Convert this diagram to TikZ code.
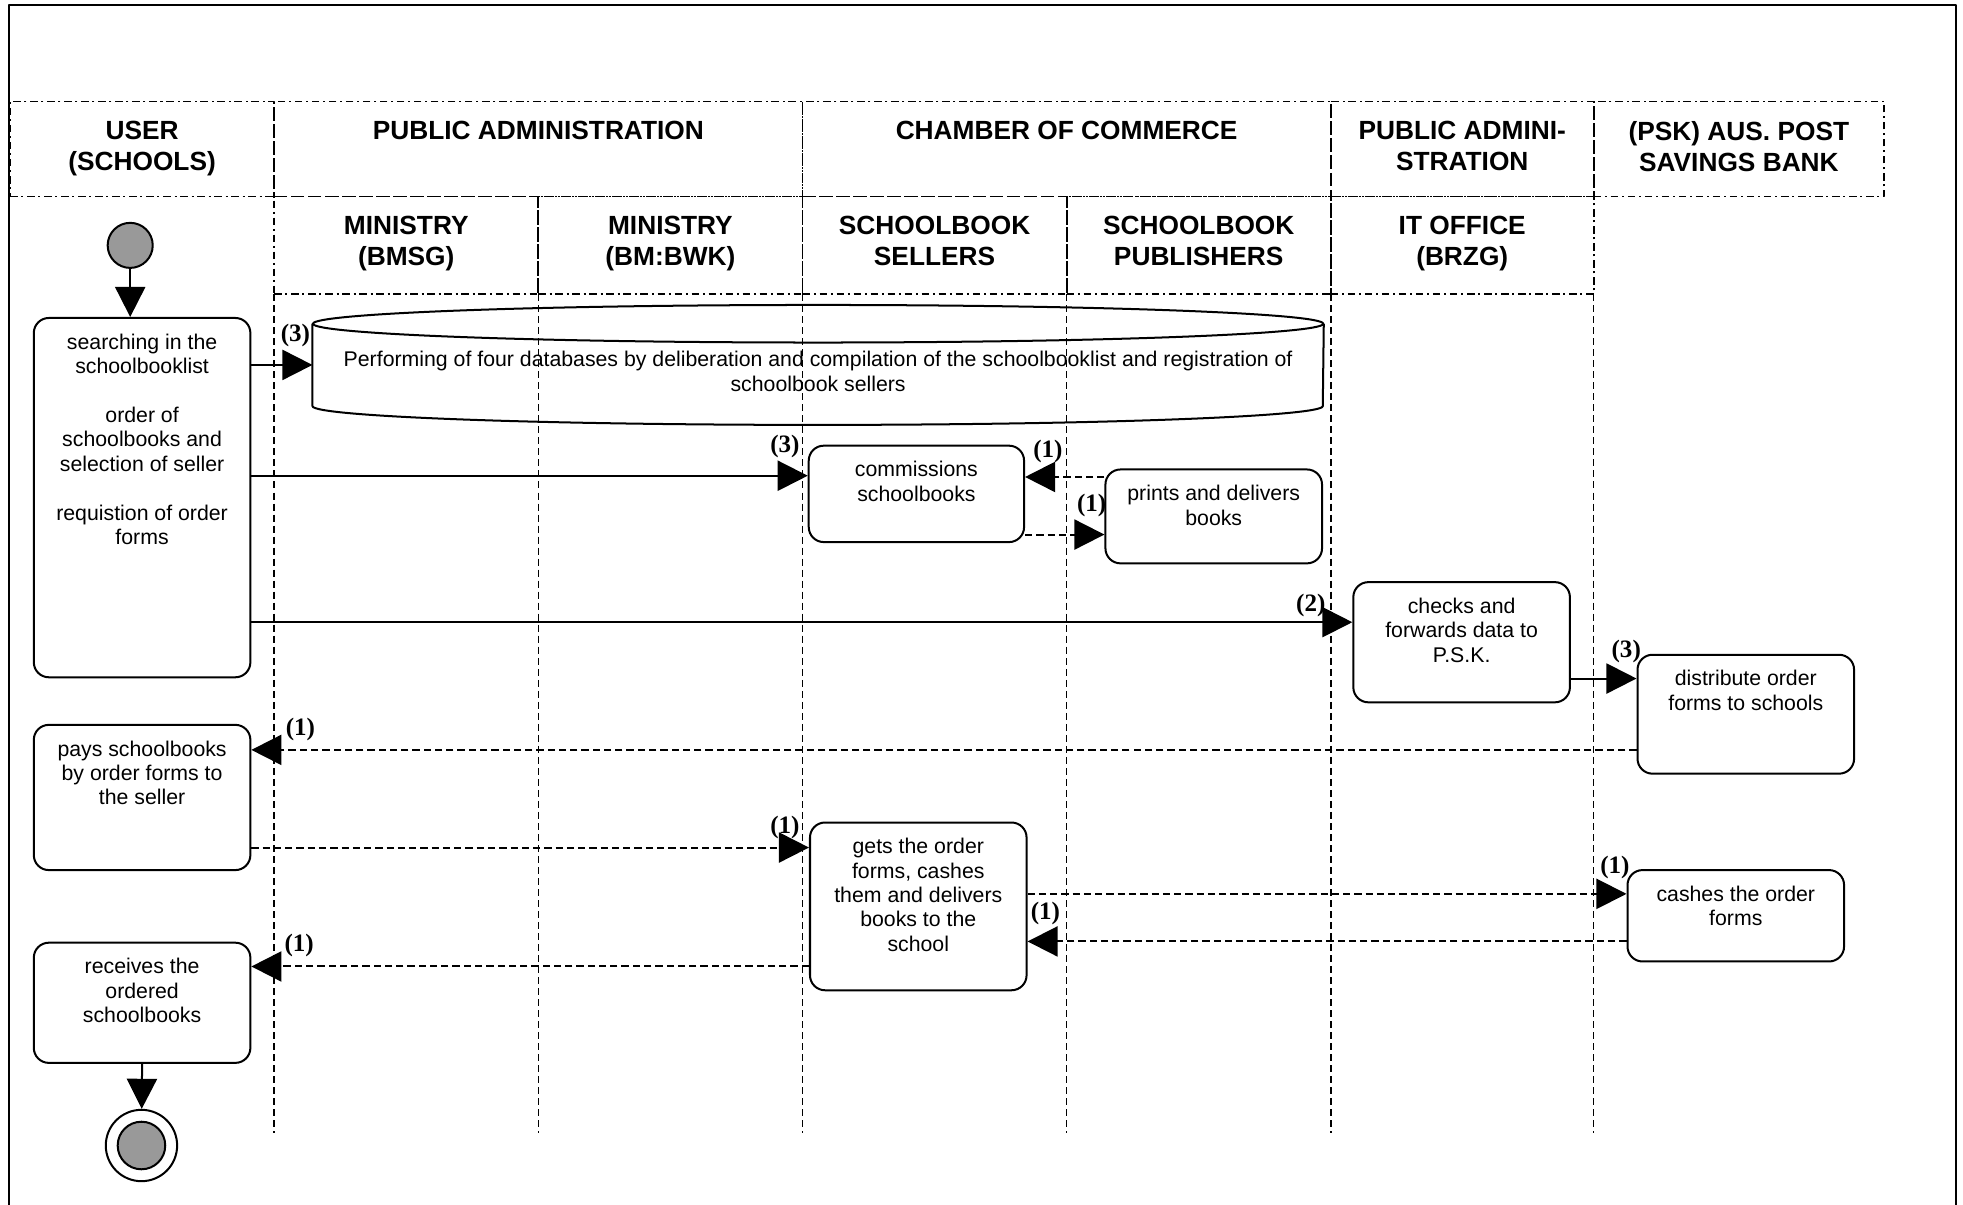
\documentclass[tikz,border=0pt]{standalone}
\usepackage{fontspec}
\setmainfont{Liberation Sans}
\newfontfamily\numfont{Liberation Serif}
\usetikzlibrary{arrows.meta}
\definecolor{dotgray}{HTML}{999999}
\tikzset{
  lanehead/.style={draw, line width=0.7pt, dash pattern=on 3pt off 1.5pt on 0.8pt off 1.5pt, inner sep=0pt},
  headtext/.style={anchor=north, align=center, inner sep=8pt, font=\fontsize{10.5}{12.5}\selectfont\bfseries},
  lane/.style={line width=0.6pt, dash pattern=on 2.8pt off 1.6pt},
  act/.style={draw, rounded corners=6pt, line width=0.8pt, minimum width=86.5pt, inner sep=0pt},
  acttext/.style={anchor=north, align=center, inner sep=6.5pt, font=\fontsize{8.5}{9.75}\selectfont},
  flow/.style={line width=0.8pt, -{Triangle[length=12pt,width=12pt]}},
  msg/.style={flow, dash pattern=on 2.9pt off 1.6pt},
  num/.style={font=\fontsize{10}{12}\selectfont\numfont\bfseries, inner sep=0pt},
}
\begin{document}
\begin{tikzpicture}[x=0.5pt, y=-0.5pt, line join=round]
\useasboundingbox (0,0) rectangle (1568,962);
\draw[line width=0.8pt] (7,975) -- (7,4) -- (1562.5,4) -- (1562.5,975);

\node[lanehead, minimum width=105.5pt, minimum height=38pt, label={[headtext]north:USER\\(SCHOOLS)}] (hUser) at (113.5,119) {};
\node[lanehead, minimum width=211pt, minimum height=38pt, label={[headtext]north:PUBLIC ADMINISTRATION}] (hPub) at (430,119) {};
\node[lanehead, minimum width=211pt, minimum height=38pt, label={[headtext]north:CHAMBER OF COMMERCE}] (hCham) at (852,119) {};
\node[lanehead, minimum width=105pt, minimum height=38pt, label={[headtext]north:PUBLIC ADMINI-\\STRATION}] (hPubIt) at (1168,119) {};
\node[lanehead, minimum width=116pt, minimum height=38pt, label={[headtext]north:(PSK) AUS. POST\\SAVINGS BANK}] (hPsk) at (1389,119) {};
\node[lanehead, minimum width=105.5pt, minimum height=39pt, label={[headtext]north:MINISTRY\\(BMSG)}] (hBmsg) at (324.5,196) {};
\node[lanehead, minimum width=105.5pt, minimum height=39pt, label={[headtext]north:{MINISTRY\\(BM:BWK)}}] (hBwk) at (535.5,196) {};
\node[lanehead, minimum width=105.5pt, minimum height=39pt, label={[headtext]north:SCHOOLBOOK\\SELLERS}] (hSell) at (746.5,196) {};
\node[lanehead, minimum width=105.5pt, minimum height=39pt, label={[headtext]north:SCHOOLBOOK\\PUBLISHERS}] (hPubl) at (957.5,196) {};
\node[lanehead, minimum width=105pt, minimum height=39pt, label={[headtext]north:IT OFFICE\\(BRZG)}] (hIt) at (1168,196) {};
\foreach \x in {219,430,641,852,1063,1273}
  \draw[lane] (\x,235) -- (\x,905);

\node[circle, draw, line width=0.8pt, fill=dotgray, minimum size=18pt, inner sep=0pt] (start) at (104,196) {};
\node[act, minimum height=143.5pt, label={[acttext]north:searching in the\\schoolbooklist\\[9.75pt]order of\\schoolbooks and\\selection of seller\\[9.75pt]requistion of order\\forms}] (search) at (113.5,397.5) {};
\node[minimum width=403.5pt, minimum height=47.5pt, inner sep=0pt, label={[acttext, anchor=center, yshift=-2.5pt]center:{Performing of four databases by deliberation and compilation of the schoolbooklist and registration of\\schoolbook sellers}}] (db) at (653.5,291.5) {};
\draw[line width=0.8pt] ([yshift=-7.5pt]db.north west) -- ([yshift=7.5pt]db.south west) arc[start angle=180, end angle=0, x radius=403.5, y radius=15] -- ([yshift=-7.5pt]db.north east);
\draw[line width=0.8pt] ([yshift=-7.5pt]db.north) ellipse[x radius=403.5, y radius=15];
\node[act, minimum width=86pt, minimum height=38.5pt, label={[acttext]north:commissions\\schoolbooks}] (com) at (732,394.5) {};
\node[act, minimum height=37.5pt, label={[acttext]north:prints and delivers\\books}] (prn) at (969.5,412.5) {};
\node[act, minimum height=48pt, label={[acttext]north:checks and\\forwards data to\\P.S.K.}] (chk) at (1167.5,513) {};
\node[act, minimum height=47.5pt, label={[acttext]north:distribute order\\forms to schools}] (dist) at (1394.5,570.5) {};
\node[act, minimum height=58pt, label={[acttext]north:pays schoolbooks\\by order forms to\\the seller}] (pays) at (113.5,637) {};
\node[act, minimum height=67pt, label={[acttext]north:gets the order\\forms, cashes\\them and delivers\\books to the\\school}] (gets) at (733.5,724) {};
\node[act, minimum height=36.5pt, label={[acttext]north:cashes the order\\forms}] (cash) at (1386.5,731.5) {};
\node[act, minimum height=48pt, label={[acttext]north:receives the\\ordered\\schoolbooks}] (recv) at (113.5,801) {};
\node[circle, draw, line width=0.8pt, fill=white, minimum size=28.5pt, inner sep=0pt] (stop) at (113,915) {};
\node[circle, draw, line width=0.8pt, fill=dotgray, minimum size=19pt, inner sep=0pt] (stopin) at (stop) {};

\coordinate (comin) at ([yshift=7.25pt]com.west);
\coordinate (prnout) at ([yshift=15.75pt]prn.west);
\coordinate (comout) at ([yshift=-16.25pt]com.east);
\coordinate (chkin) at ([yshift=8pt]chk.west);
\coordinate (distin) at ([yshift=14.25pt]dist.west);
\coordinate (paysin) at ([yshift=19pt]pays.east);
\coordinate (paysout) at ([yshift=-20pt]pays.east);
\coordinate (cashin) at ([yshift=8.75pt]cash.west);
\coordinate (cashout) at ([yshift=-10.25pt]cash.west);
\coordinate (recvin) at ([yshift=14.5pt]recv.east);

\draw[flow] (start) -- (start |- search.north);
\draw[flow] (search.east |- db.west) -- (db.west);
\draw[flow] (search.east |- comin) -- (comin);
\draw[msg] (prnout) -- (com.east |- prnout);
\draw[msg] (comout) -- (prn.west |- comout);
\draw[flow] (search.east |- chkin) -- (chkin);
\draw[flow] (chk.east |- distin) -- (distin);
\draw[msg] (dist.west |- paysin) -- (paysin);
\draw[msg] (paysout) -- (gets.west |- paysout);
\draw[msg] (gets.east |- cashin) -- (cashin);
\draw[msg] (cashout) -- (gets.east |- cashout);
\draw[msg] (gets.west |- recvin) -- (recvin);
\draw[flow] (recv.south) -- (stop);

\node[num] (n1) at (236,268) {(3)};
\node[num] (n2) at (627,357) {(3)};
\node[num] (n3) at (837,361) {(1)};
\node[num] (n4) at (872,404) {(1)};
\node[num] (n5) at (1047,484) {(2)};
\node[num] (n6) at (1299,520) {(3)};
\node[num] (n7) at (240,583) {(1)};
\node[num] (n8) at (627,661) {(1)};
\node[num] (n9) at (1290,693) {(1)};
\node[num] (n10) at (835,730) {(1)};
\node[num] (n11) at (239,755) {(1)};
\end{tikzpicture}
\end{document}
